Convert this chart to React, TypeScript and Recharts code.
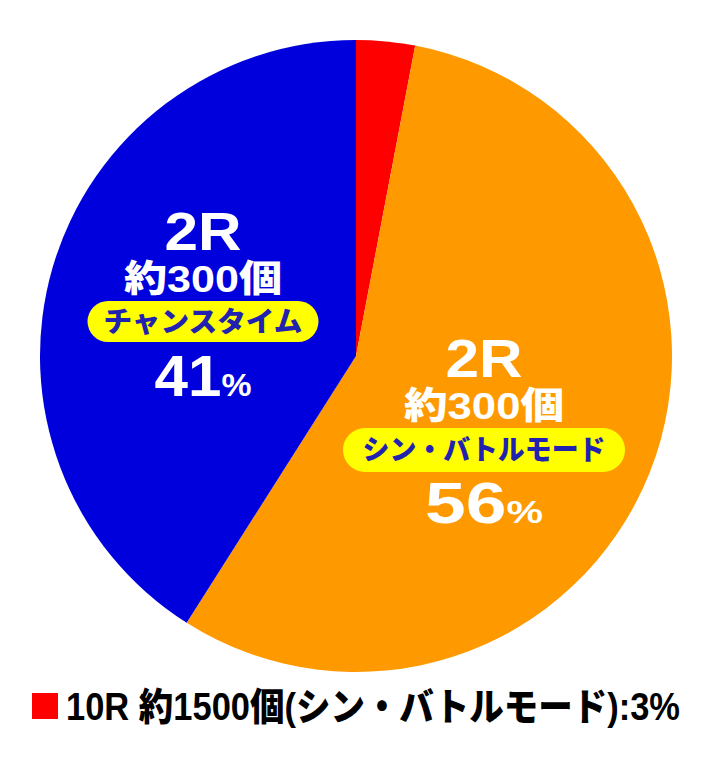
import React from "react";
import { PieChart, Pie, Cell, Legend } from "recharts";

const categories = ["10R 約1500個(シン・バトルモード)", "2R 約300個 シン・バトルモード", "2R 約300個 チャンスタイム"];
const values = [3, 56, 41];
const colors = ["#ff0000", "#ff9900", "#0000dc"];
const roundLabels = ["10R", "2R", "2R"];
const countLabels = ["約1500個", "約300個", "約300個"];
const modeLabels = ["シン・バトルモード", "シン・バトルモード", "チャンスタイム"];
const legendText = "10R 約1500個(シン・バトルモード):3%";

const data = categories.map((name, i) => ({ name, value: values[i] }));

const FONT = "'Liberation Sans', 'Noto Sans CJK JP', sans-serif";

// label layout per slice (relative to pie centre)
const labelLayout: Record<number, any> = {
  1: { dx: 128, dy: 0, pillW: 282, pillH: 44, rW: 77, cW: 160, mW: 243, pW: 118 },
  2: { dx: -153, dy: -127, pillW: 231, pillH: 41, rW: 77, cW: 158, mW: 199, pW: 97 },
};

const renderLabel = (props: any) => {
  const { index, cx, cy } = props;
  const L = labelLayout[index];
  if (!L) return null;
  const x = cx + L.dx;
  const y0 = cy + L.dy;
  return (
    <g key={`lbl-${index}`} fontFamily={FONT} fontWeight={900}>
      <text x={x} y={y0 + 21} textAnchor="middle" fill="#ffffff" fontSize={54} textLength={L.rW} lengthAdjust="spacingAndGlyphs">
        {roundLabels[index]}
      </text>
      <text x={x} y={y0 + 63} textAnchor="middle" fill="#ffffff" fontSize={37} textLength={L.cW} lengthAdjust="spacingAndGlyphs">
        {countLabels[index]}
      </text>
      <rect x={x - L.pillW / 2} y={y0 + 72} width={L.pillW} height={L.pillH} rx={L.pillH / 2} ry={L.pillH / 2} fill="#ffff00" />
      <text x={x} y={y0 + 72 + L.pillH / 2 + 10} textAnchor="middle" fill="#2222b0" fontSize={28} textLength={L.mW} lengthAdjust="spacingAndGlyphs">
        {modeLabels[index]}
      </text>
      <text x={x} y={y0 + 167} textAnchor="middle" fill="#ffffff" fontSize={57} textLength={L.pW} lengthAdjust="spacingAndGlyphs">
        {values[index]}
        <tspan fontSize={32}>%</tspan>
      </text>
    </g>
  );
};

const LegendContent = () => (
  <svg width={712} height={90} style={{ display: "block" }}>
    <rect x={32} y={33} width={26} height={26} fill={colors[0]} />
    <text
      x={0}
      y={0}
      transform="translate(66,60) scale(1,1.12)"
      fontFamily={FONT}
      fontWeight={900}
      fontSize={34}
      fill="#000000"
      textLength={614}
      lengthAdjust="spacingAndGlyphs"
    >
      {legendText}
    </text>
  </svg>
);

export default function App() {
  return (
    <div style={{ position: "absolute", left: 0, top: 0, width: 712, height: 762, background: "#ffffff" }}>
      <PieChart width={712} height={762} margin={{ top: 0, right: 0, bottom: 0, left: 0 }}>
        <Pie
          data={data}
          dataKey="value"
          nameKey="name"
          cx={356}
          cy={356}
          outerRadius={316}
          innerRadius={0}
          startAngle={90}
          endAngle={-270}
          stroke="none"
          isAnimationActive={false}
          label={renderLabel}
          labelLine={false}
        >
          {data.map((d, i) => (
            <Cell key={d.name} fill={colors[i]} />
          ))}
        </Pie>
        <Legend
          content={<LegendContent />}
          wrapperStyle={{ position: "absolute", left: 0, top: 660, width: 712, height: 90 }}
        />
      </PieChart>
    </div>
  );
}
